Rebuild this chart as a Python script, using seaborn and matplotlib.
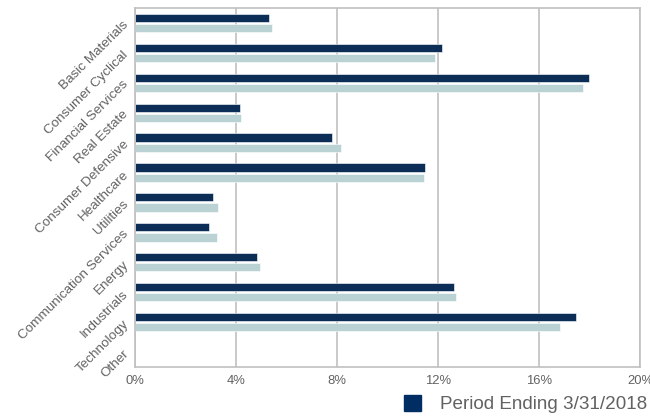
import numpy as np
import pandas as pd
import matplotlib
matplotlib.use("Agg")
import matplotlib.pyplot as plt
from matplotlib.patches import Patch
from matplotlib.ticker import FuncFormatter, MultipleLocator
import seaborn as sns

# Sector weights (%)
sectors = [
    "Basic Materials", "Consumer Cyclical", "Financial Services", "Real Estate",
    "Consumer Defensive", "Healthcare", "Utilities", "Communication Services",
    "Energy", "Industrials", "Technology", "Other",
]
current = [5.30, 12.17, 17.99, 4.15, 7.80, 11.50, 3.10, 2.94, 4.82, 12.65, 17.45, np.nan]
comparison = [5.41, 11.88, 17.76, 4.18, 8.16, 11.46, 3.30, 3.23, 4.94, 12.73, 16.82, np.nan]
series_names = ["Period Ending 3/31/2018", "Comparison"]

DARK = "#002d62"
LIGHT = "#b6d6d8"
GRID = "#c0c0c0"
TEXT = "#626262"

df = pd.DataFrame({
    "sector": sectors * 2,
    "weight": current + comparison,
    "series": [series_names[0]] * len(sectors) + [series_names[1]] * len(sectors),
})

sns.set_theme(style="white")
plt.rcParams["font.family"] = ["Liberation Sans", "DejaVu Sans"]

fig = plt.figure(figsize=(6.5, 4.17), dpi=100)
ax = fig.add_axes([135 / 650, 1 - 367 / 417, 505 / 650, 359 / 417])

sns.barplot(
    data=df, y="sector", x="weight", hue="series", order=sectors,
    hue_order=series_names, palette=[DARK, LIGHT], orient="h",
    width=0.68, gap=0.2, legend=False, ax=ax,
    edgecolor="white", linewidth=0.4,
)

ax.set_xlim(0, 20)
ax.set_ylim(len(sectors) - 0.5, -0.5)
ax.xaxis.set_major_locator(MultipleLocator(4))
ax.xaxis.set_major_formatter(FuncFormatter(lambda v, _: f"{v:.0f}%"))
ax.grid(axis="x", color=GRID, linewidth=1.2)
ax.grid(axis="y", visible=False)
ax.set_axisbelow(True)
for s in ax.spines.values():
    s.set_color(GRID)
    s.set_linewidth(1.2)
ax.set_xlabel("")
ax.set_ylabel("")
ax.tick_params(axis="x", length=0, colors=TEXT, labelsize=9.4, pad=6)
ax.tick_params(axis="y", length=0, colors=TEXT, labelsize=9.7, pad=6)
for lab in ax.get_yticklabels():
    lab.set_rotation(45)
    lab.set_ha("right")
    lab.set_va("center")
    lab.set_rotation_mode("anchor")

fig.legend(
    handles=[Patch(facecolor=DARK, edgecolor=DARK, label=series_names[0])],
    loc="center left", bbox_to_anchor=(404 / 650, 1 - 404 / 417),
    frameon=False, fontsize=13.6, handlelength=0.92, handleheight=0.92,
    handletextpad=1.0, borderpad=0, borderaxespad=0, labelcolor=TEXT,
)

fig.savefig("out.png", dpi=100)
